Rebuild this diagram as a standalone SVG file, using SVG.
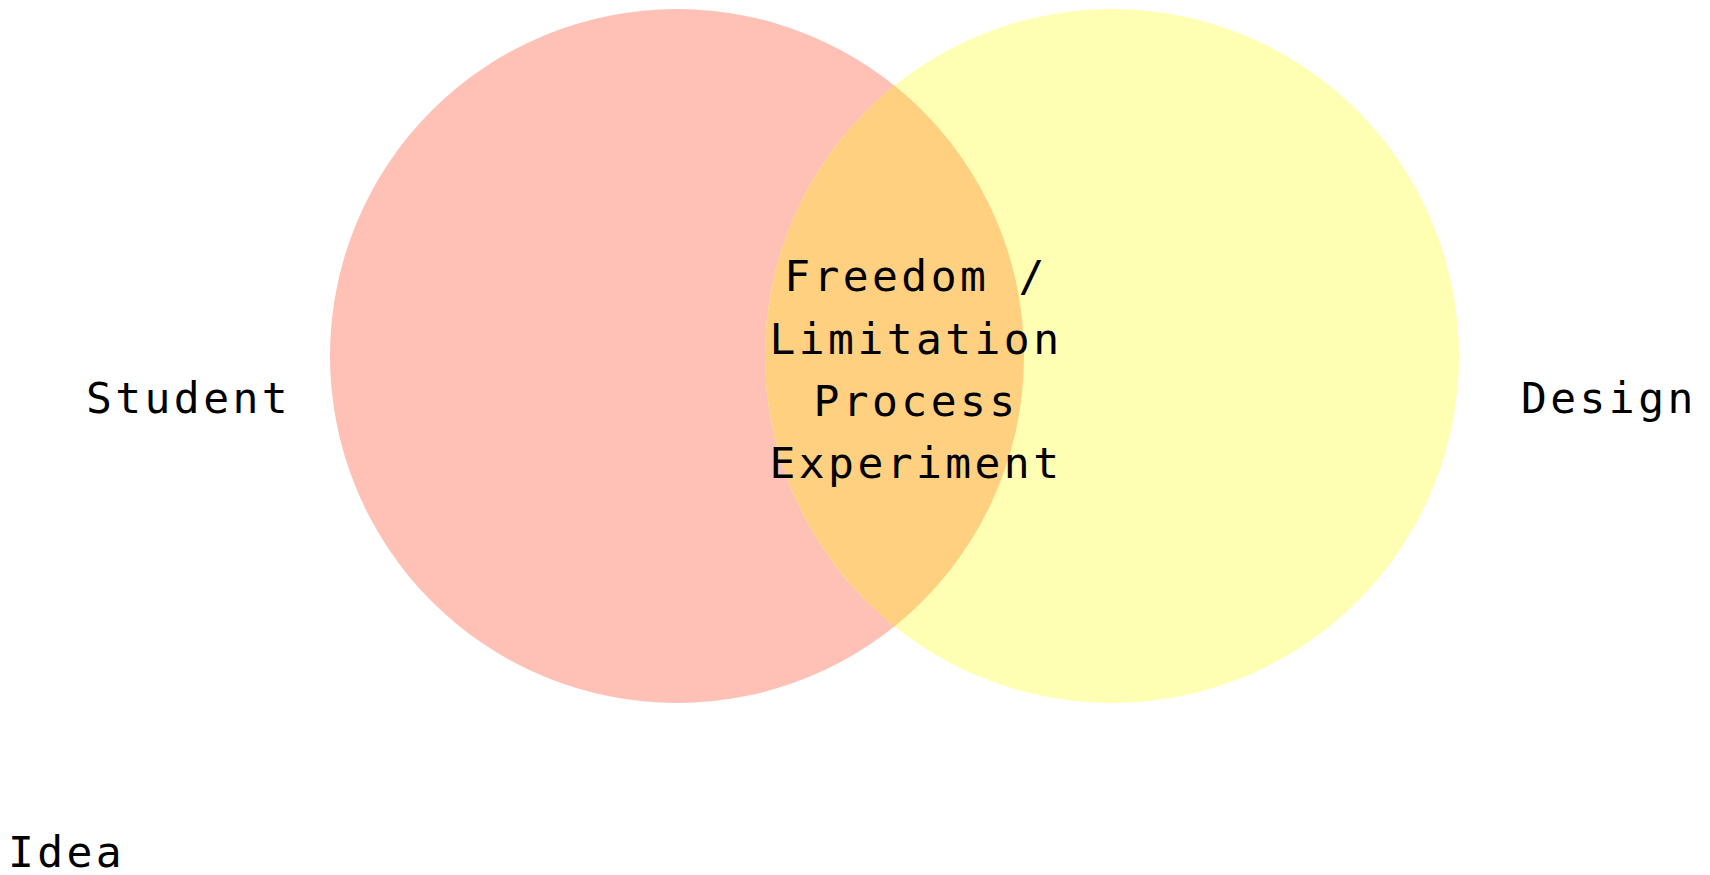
<svg xmlns="http://www.w3.org/2000/svg" width="1710" height="875" viewBox="0 0 1710 875">
<style>
  .lbl { font-family: "DejaVu Sans Mono", "Liberation Mono", monospace; font-size: 43px; letter-spacing: 3.4px; fill: #000; }
  .mid { text-anchor: middle; }
</style>
<rect width="1710" height="875" fill="#ffffff"/>
<g id="student-circle">
  <circle cx="677" cy="356" r="347" fill="#FFC0B5"/>
</g>
<g id="design-circle">
  <circle cx="1112" cy="356" r="347" fill="#FFFFB3"/>
</g>
<g id="overlap">
  <path d="M 894.5 85.6 A 347 347 0 0 1 894.5 626.4 A 347 347 0 0 1 894.5 85.6 Z" fill="#FED080"/>
  <text class="lbl mid" x="916" y="291">Freedom /</text>
  <text class="lbl mid" x="916" y="354">Limitation</text>
  <text class="lbl mid" x="916" y="416">Process</text>
  <text class="lbl mid" x="916" y="478">Experiment</text>
</g>
<g id="student-label">
  <text class="lbl" x="86" y="413">Student</text>
</g>
<g id="design-label">
  <text class="lbl" x="1521" y="413">Design</text>
</g>
<g id="idea-label">
  <text class="lbl" x="8" y="867">Idea</text>
</g>
<g id="connectors"></g>
</svg>
